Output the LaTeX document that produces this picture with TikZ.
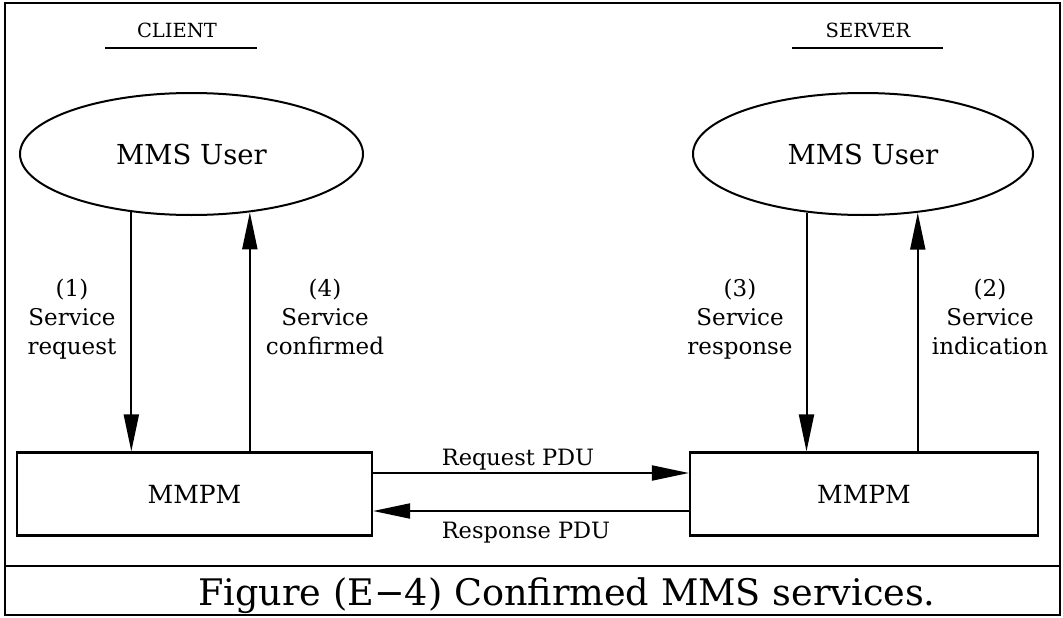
\documentclass[tikz,border=0pt]{standalone}
\usepackage{fontspec}
\setmainfont{DejaVu Serif}
\usetikzlibrary{shapes.geometric,arrows.meta}
\tikzset{
  frame/.style={line width=2.2pt},
  user/.style={draw,ellipse,line width=2pt,minimum width=343pt,minimum height=122pt,inner sep=0pt,font=\fontsize{27.5}{32}\selectfont},
  pm/.style={draw,rectangle,line width=2.2pt,minimum height=83pt,inner sep=0pt,font=\fontsize{25}{30}\selectfont},
  side/.style={font=\fontsize{19.5}{24}\selectfont,anchor=base,inner sep=0pt},
  lbl/.style={align=center,inner sep=0pt,font=\fontsize{23}{29}\selectfont},
  plbl/.style={anchor=base,inner sep=0pt,font=\fontsize{22.5}{28}\selectfont},
  arr/.style={line width=2pt,-{Triangle[length=37pt,width=15pt]}},
  captxt/.style={anchor=base,inner sep=0pt,font=\fontsize{36.6}{40}\selectfont}
}
\begin{document}
\begin{tikzpicture}[x=1pt,y=-1pt]
\useasboundingbox (0,0) rectangle (1063,618);
% outer frame and caption divider
\draw[frame] (5,3) rectangle (1060,615);
\coordinate (dl) at (5,566);
\coordinate (dr) at (1060,566);
\draw[frame] (dl) -- (dr);
% side titles
\node[side] (client) at (177,38) {CLIENT};
\node[side] (server) at (868,38) {SERVER};
\coordinate (cu1) at (105,48); \coordinate (cu2) at (257,48);
\coordinate (su1) at (792,48); \coordinate (su2) at (943,48);
\draw[line width=2pt] (cu1) -- (cu2);
\draw[line width=2pt] (su1) -- (su2);
% users
\node[user] (userL) at (191.5,154) {MMS User};
\node[user,minimum width=340pt] (userR) at (863,154) {MMS User};
% protocol machines
\node[pm,minimum width=355pt] (pmL) at (194.5,494) {MMPM};
\node[pm,minimum width=348pt] (pmR) at (864,494) {MMPM};
% vertical service arrows
\draw[arr] (userL.224.4) -- (userL.224.4 |- pmL.north);
\draw[arr] (pmL.north -| userL.315.6) -- (userL.315.6);
\draw[arr] (userR.226) -- (userR.226 |- pmR.north);
\draw[arr] (pmR.north -| userR.313) -- (userR.313);
% PDU arrows
\draw[arr] ([yshift=21pt]pmL.east) -- ([yshift=21pt]pmL.east -| pmR.west);
\draw[arr] ([yshift=-17pt]pmR.west) -- ([yshift=-17pt]pmR.west -| pmL.east);
% labels
\node[lbl] (l1) at (72,320) {\strut(1)\\Service\\request\strut};
\node[lbl] (l4) at (325,320) {\strut(4)\\Service\\confirmed\strut};
\node[lbl] (l3) at (740,320) {\strut(3)\\Service\\response\strut};
\node[lbl] (l2) at (990,320) {\strut(2)\\Service\\indication\strut};
\node[plbl] (req) at (518,465) {Request PDU};
\node[plbl] (rsp) at (526,538) {Response PDU};
% caption
\node[captxt] (caption) at (567,605) {Figure (E−4) Confirmed MMS services.};
\end{tikzpicture}
\end{document}
